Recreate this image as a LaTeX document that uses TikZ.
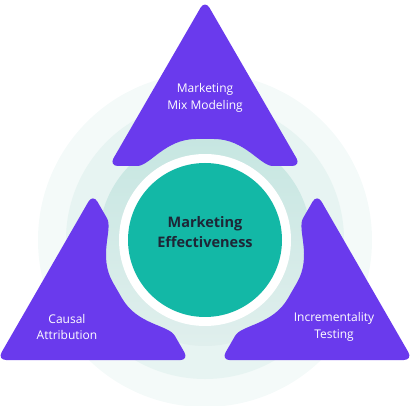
\documentclass[tikz,border=0pt]{standalone}
\usepackage{fontspec}
\setmainfont{Open Sans}
\usetikzlibrary{calc}
\definecolor{mmviolet}{HTML}{6A3AED}
\definecolor{mmteal}{HTML}{13B8A6}
\definecolor{ringinner}{HTML}{C6E6E1}
\definecolor{ringinnerlow}{HTML}{E0EFED}
\definecolor{ringmid}{HTML}{E7F4F2}
\definecolor{ringouter}{HTML}{F4FAF9}
\definecolor{mmink}{HTML}{1E2636}
\tikzset{
  cornertext/.style={text=white, align=center, font=\fontsize{12}{17}\selectfont},
  coretext/.style={text=mmink, align=center, font=\bfseries\fontsize{14.5}{20}\selectfont}
}
\def\cornerpiece(#1)(#2){\fill[mmviolet, rounded corners=9, shift={(#1)}, rotate=#2] (0,-240) -- (96,-74) -- (77,-74) .. controls (55,-74) and (40,-101) .. (0,-101) .. controls (-40,-101) and (-55,-74) .. (-77,-74) -- (-96,-74) -- cycle;}

\begin{document}
\begin{tikzpicture}[x=1pt, y=-1pt]
		%%%%% START %%%%%
		\useasboundingbox (0, 0) rectangle (410, 406);
		
		\coordinate (hub) at (205, 240);
		
		\fill[ringouter] (hub) circle (167);
		\fill[ringmid] (hub) circle (139);
		\shade[top color=ringinner, bottom color=ringinnerlow] (hub) circle (106);
		
		\cornerpiece(hub)(0);
		\cornerpiece(hub)(120);
		\cornerpiece(hub)(240);
		
		\fill[white] (hub) circle (86);
		\fill[mmteal] (hub) circle (77);
		
		\node[coretext] (core) at (205, 232) {Marketing\\Effectiveness};
		
		\node[cornertext] (mix) at (205, 98) {Marketing\\Mix Modeling};
		\node[cornertext] (causal) at (67, 327) {Causal\\Attribution};
		\node[cornertext] (incr) at (334, 327) {Incrementality\\Testing};
		
		%%%%% END %%%%%
	\end{tikzpicture}
\end{document}
